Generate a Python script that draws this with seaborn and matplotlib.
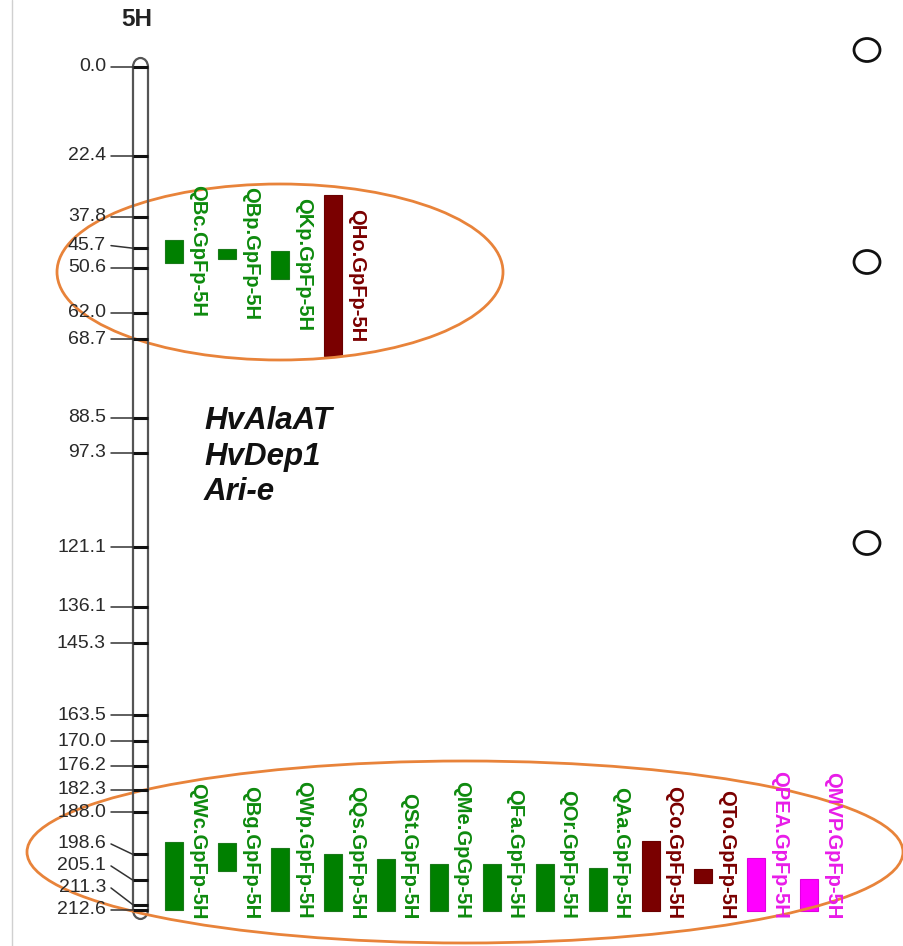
import numpy as np
import pandas as pd
import matplotlib
matplotlib.use("Agg")
import matplotlib.pyplot as plt
import seaborn as sns
from matplotlib.patches import Ellipse, Arc

# ---------------- data ----------------
chrom_name = "5H"
marker_cm = [0.0, 22.4, 37.8, 45.7, 50.6, 62.0, 68.7, 88.5, 97.3, 121.1,
             136.1, 145.3, 163.5, 170.0, 176.2, 182.3, 188.0, 198.6,
             205.1, 211.3, 212.6]

genes = ["HvAlaAT", "HvDep1", "Ari-e"]

top_names = ["QBc.GpFp-5H", "QBp.GpFp-5H", "QKp.GpFp-5H", "QHo.GpFp-5H"]
top_start = [43.6, 45.9, 46.4, 32.3]
top_end = [49.4, 48.4, 53.5, 72.9]
top_group = ["green", "green", "green", "red"]

bot_names = ["QWc.GpFp-5H", "QBg.GpFp-5H", "QWp.GpFp-5H", "QQs.GpFp-5H",
             "QSt.GpFp-5H", "QMe.GpGp-5H", "QFa.GpFp-5H", "QOr.GpFp-5H",
             "QAa.GpFp-5H", "QCo.GpFp-5H", "QTo.GpFp-5H", "QPEA.GpFp-5H",
             "QMVP.GpFp-5H"]
bot_start = [195.5, 195.7, 197.0, 198.5, 199.7, 201.0, 201.0, 201.0,
             202.0, 195.2, 202.3, 199.5, 204.8]
bot_end = [212.6, 202.8, 212.8, 212.8, 212.8, 212.8, 212.8, 212.8,
           212.8, 212.8, 205.8, 212.8, 212.8]
bot_group = ["green"] * 9 + ["red", "red", "magenta", "magenta"]

palette = {"green": "#008000", "red": "#7A0000", "magenta": "#FF00FF"}
edge_palette = {"green": "#1a7a1a", "red": "#6a0000", "magenta": "#e000e0"}
text_palette = {"green": "#0E8A0E", "red": "#7A0000", "magenta": "#E81CE8"}

# ---------------- setup ----------------
sns.set_theme(style="white")
plt.rcParams["font.family"] = ["Liberation Sans", "DejaVu Sans"]

W, H = 904, 946
Y0, S = 67.0, 3.965          # pixel of 0 cM, pixels per cM


def px2cm(y):
    return (y - Y0) / S


fig = plt.figure(figsize=(W / 100, H / 100), dpi=100)
ax = fig.add_axes([0, 0, 1, 1])
ax.set_xlim(0, W)
ax.set_ylim(px2cm(H), px2cm(0))
ax.axis("off")

# left panel border
ax.plot([12, 12], [px2cm(0), px2cm(H)], color="#d0d0d0", lw=1)

# title
ax.text(137, px2cm(19.5), chrom_name, ha="center", va="center",
        fontsize=17.5, fontweight="bold", color="#222222")

# ---------------- chromosome ----------------
cx_l, cx_r = 133, 148
cx = (cx_l + cx_r) / 2
top_cm, bot_cm = marker_cm[0], marker_cm[-1]
ax.vlines([cx_l, cx_r], top_cm, bot_cm, color="#555555", lw=1.6)
cap_h = 2 * 9 / S
ax.add_patch(Arc((cx, top_cm), cx_r - cx_l, cap_h, theta1=180, theta2=360,
                 color="#555555", lw=1.6))
ax.add_patch(Arc((cx, bot_cm), cx_r - cx_l, cap_h, theta1=0, theta2=180,
                 color="#555555", lw=1.6))
ax.hlines(marker_cm, cx_l, cx_r, color="#111111", lw=2.2)

# marker labels, decluttered from the bottom up
min_gap = 22.0 / S
lab = list(marker_cm)
for i in range(len(lab) - 2, -1, -1):
    if lab[i + 1] - lab[i] < min_gap:
        lab[i] = lab[i + 1] - min_gap
for m, l in zip(marker_cm, lab):
    ax.plot([111, cx_l], [l, m], color="#333333", lw=1.1)
    ax.text(106, l, f"{m:.1f}", ha="right", va="center", fontsize=14,
            color="#2a2a2a")

# ---------------- QTL bars ----------------
x0, step, bw = 174.5, 52.9, 18

tx = x0 + step * np.arange(len(top_names))
ax.bar(tx, np.array(top_end) - np.array(top_start), bottom=top_start,
       width=bw, color=[palette[g] for g in top_group],
       edgecolor=[edge_palette[g] for g in top_group], lw=0.8)
for x, n, s, e, g in zip(tx, top_names, top_start, top_end, top_group):
    ax.text(x + 23, (s + e) / 2, n, rotation=270, ha="center", va="center",
            fontsize=14.5, fontweight="bold", color=text_palette[g])

bx = x0 + step * np.arange(len(bot_names))
ax.bar(bx, np.array(bot_end) - np.array(bot_start), bottom=bot_start,
       width=bw, color=[palette[g] for g in bot_group],
       edgecolor=[edge_palette[g] for g in bot_group], lw=0.8)
for x, n, g in zip(bx, bot_names, bot_group):
    ax.text(x + 23, px2cm(919), n, rotation=270, ha="center", va="bottom",
            fontsize=14.5, fontweight="bold", color=text_palette[g])

# ---------------- candidate genes ----------------
for i, gname in enumerate(genes):
    ax.text(204, px2cm(421 + 35.5 * i), gname, ha="left", va="center",
            fontsize=22.5, fontweight="bold", fontstyle="italic",
            color="#111111")

# ---------------- highlight ellipses ----------------
orange = "#E8833A"
ax.add_patch(Ellipse((280, px2cm(272)), 446, 176 / S, fill=False,
                     edgecolor=orange, lw=2))
ax.add_patch(Ellipse((465, px2cm(852)), 876, 182 / S, fill=False,
                     edgecolor=orange, lw=2))

# ---------------- radio circles at right ----------------
for yc in [50, 262, 543]:
    ax.add_patch(Ellipse((867, px2cm(yc)), 26, 23 / S, fill=False,
                         edgecolor="#111111", lw=2))

fig.savefig("out.png", dpi=100)
